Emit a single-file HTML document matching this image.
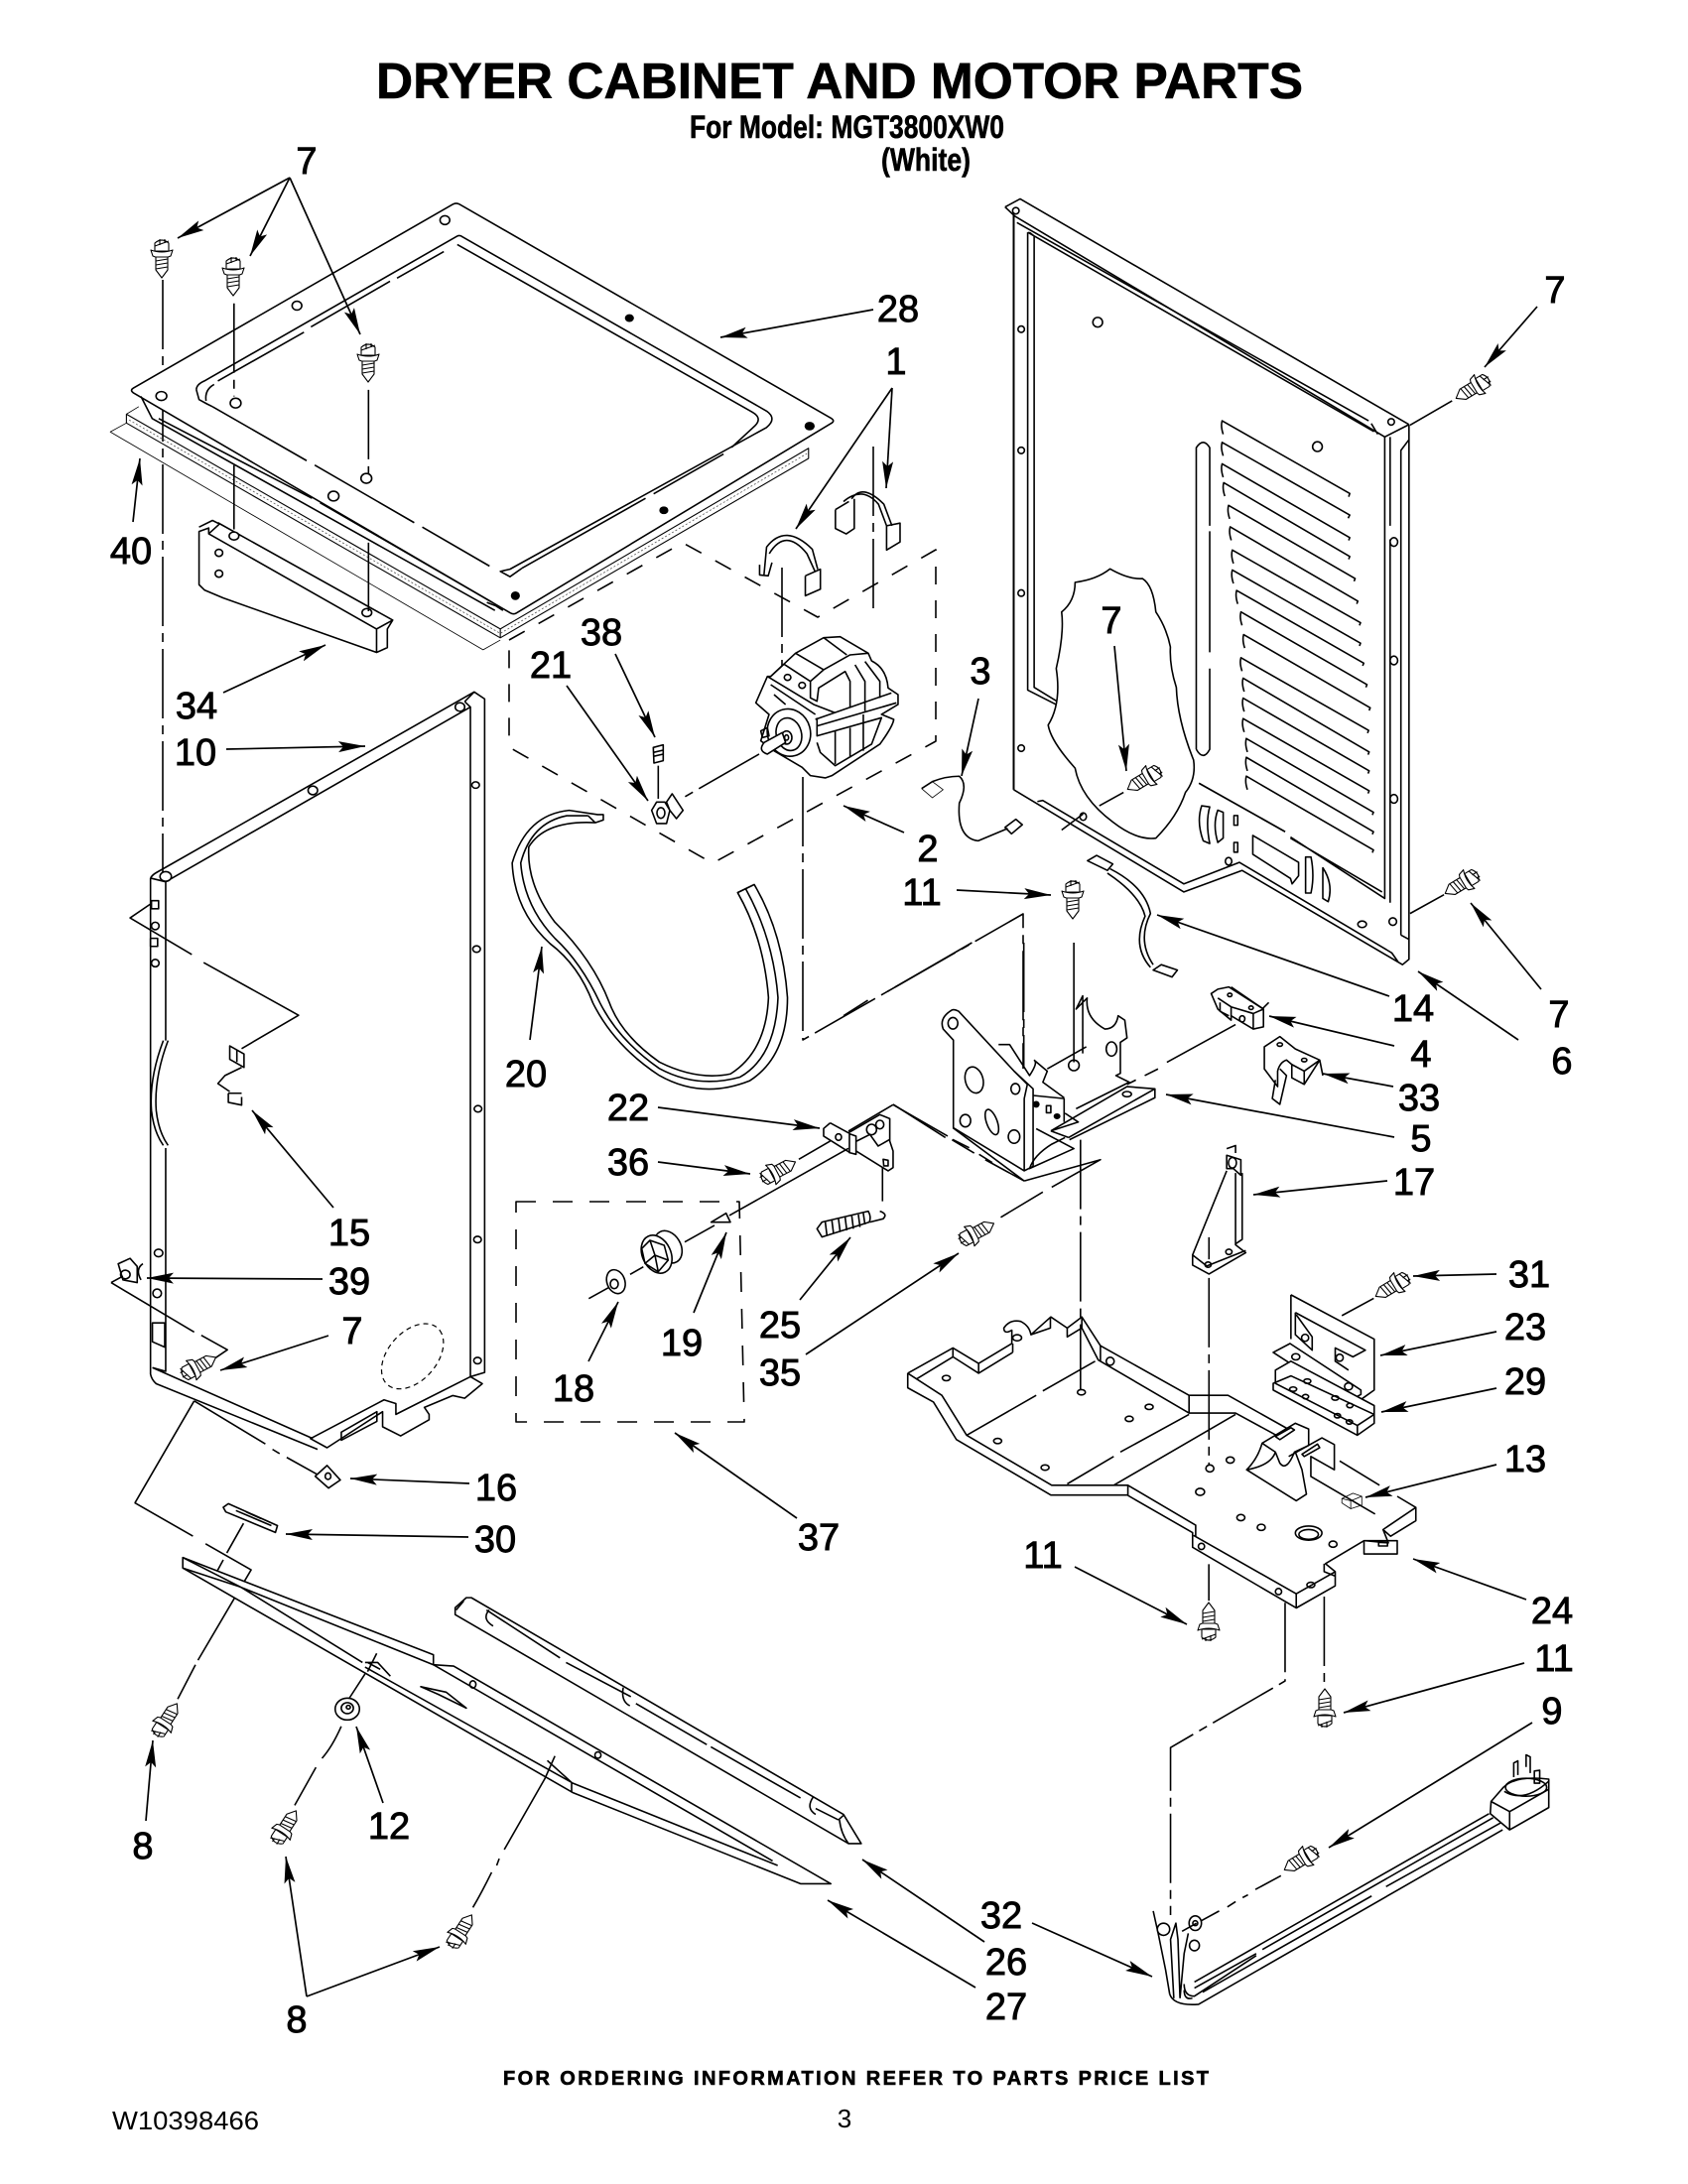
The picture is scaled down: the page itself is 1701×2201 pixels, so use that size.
<!DOCTYPE html>
<html><head><meta charset="utf-8"><title>Dryer Cabinet and Motor Parts</title>
<style>
html,body{margin:0;padding:0;background:#fff}
svg{display:block}
path,line,ellipse,rect{vector-effect:non-scaling-stroke;fill:none;stroke:#000;stroke-width:1.6;stroke-linejoin:round}
.w{fill:#fff}
.k{fill:#000}
.n{stroke-width:.8}
.h{stroke-width:2}
.d{stroke-dasharray:18 16}
.l{stroke-dasharray:70 7 9 7}
.x{stroke-dasharray:5 4}
.ar{marker-end:url(#m);stroke-width:1.7}
.a{fill:#000;stroke:none}
#sc path{stroke-width:1.1}
text{font-family:"Liberation Sans",Arial,sans-serif;fill:#000}
.t{font-size:38px;text-anchor:middle;stroke:#000;stroke-width:.9}
.b{stroke:#000;stroke-width:.6}
</style></head><body>
<svg width="1701" height="2201" viewBox="0 0 1701 2201" xmlns="http://www.w3.org/2000/svg">
<defs>
<marker id="m" markerUnits="userSpaceOnUse" markerWidth="28" markerHeight="12" refX="27" refY="6" orient="auto" viewBox="0 0 28 12"><path class="a" d="M0 .5L27 6L0 11.5L5 6Z"/></marker>
<g id="sc">
<path class="w" d="M-7 -5Q0 -11 7 -5L7 3H-7Z"/>
<path d="M-7 -2L7 -7M-2 -9L-2 -3M3 -9L3 -5"/>
<path class="w" d="M-11 2Q0 6 11 2L9 8Q0 12 -9 8Z"/>
<path class="w" d="M-6 9V22L0 30L6 22V9Z"/>
<path d="M-6 13L6 11M-6 17L6 15M-6 21L6 19"/>
</g>
</defs>

<!-- long leaders, px -->
<path class="l" d="M164 282V880"/>
<path class="d" d="M513 645L688 547L824 622L943 554V747L718 870L513 753Z"/>
<path class="l" d="M809 783V1048L1031 921V1077"/>
<path class="l" d="M788 572V712"/>
<path class="l" d="M880 450V620"/>
<path class="d" style="stroke-dasharray:20 17" d="M520 1211H745L750 1433H520Z"/>

<!-- TOP PLATE -->
<g transform="scale(.5421,.4464)">
<path style="stroke-width:1.1" d="M235 935L930 1420L1503 1012V1035L930 1440L235 955ZM930 1420V1440"/>
<path class="n" style="stroke-dasharray:2 2;stroke:#555" d="M240 948L930 1430L1500 1024"/>
<path class="n" d="M258 918L235 935M235 955L205 975L898 1467L930 1445M205 975L235 955"/>
<path class="w" d="M842 461Q848 457 854 461L1546 945Q1552 950 1546 955L960 1384Q955 1388 949 1384L248 887Q241 881 248 876Z"/>
<path d="M262 895L283 945L920 1378M905 1360L922 1368L935 1378"/>
<path d="M365 880Q365 868 380 860L850 533Q855 530 860 535L1425 928Q1445 945 1425 965L948 1285L930 1290L948 1302L970 1283"/>
<path d="M365 880L370 902L385 912L395 918M383 905Q380 880 398 868"/>
<path d="M405 860L565 750M578 738L725 635M738 628L825 568M850 552L1398 930Q1420 945 1400 965L1360 1010M1345 1025L1215 1115M1200 1125L970 1283"/>
<path d="M395 918L570 1040M585 1050L770 1180M785 1190L910 1278"/>
<path d="M295 945L580 1125M595 1135L915 1360"/>
<ellipse class="w" cx="827" cy="497" rx="9" ry="10"/><ellipse class="w" cx="552" cy="690" rx="9" ry="10"/><ellipse class="k" cx="1170" cy="718" rx="7" ry="7"/><ellipse class="k" cx="1505" cy="962" rx="8" ry="8"/>
<ellipse class="w" cx="300" cy="894" rx="10" ry="10"/><ellipse class="w" cx="438" cy="910" rx="10" ry="11"/><ellipse class="w" cx="681" cy="1080" rx="10" ry="11"/><ellipse class="w" cx="620" cy="1120" rx="10" ry="11"/><ellipse class="k" cx="1234" cy="1152" rx="7" ry="7"/><ellipse class="k" cx="958" cy="1345" rx="7" ry="8"/>
<path d="M370 1190L395 1175L408 1183L388 1205V1192L370 1200V1320L380 1332L415 1350L700 1473L720 1462V1420L730 1400L405 1180M388 1205L700 1420V1473M730 1400L700 1420"/>
<ellipse class="w" cx="435" cy="1210" rx="9" ry="9"/><ellipse class="w" cx="682" cy="1383" rx="9" ry="9"/><ellipse class="w" cx="407" cy="1248" rx="7" ry="8"/><ellipse class="w" cx="407" cy="1295" rx="7" ry="8"/>
<path class="l" d="M435 685V895M685 880V1070M435 1050V1195M685 1225V1380"/>
<path d="M1430 1250Q1460 1190 1500 1250L1515 1290M1420 1300L1425 1235Q1460 1180 1510 1240L1520 1285M1412 1275V1298L1428 1300L1435 1270M1497 1300V1345L1525 1330V1285L1497 1300"/>
</g>

<!-- BACK PANEL & items zoom 2 -->
<g transform="translate(850,150) scale(.5427)">
<path d="M300 108L328 93L1050 512M300 108L318 125L1005 535M1050 512L1005 535M980 510L992 530"/>
<path class="h" d="M316 115V1190"/>
<path d="M316 1190L632 1380L740 1340L1038 1515L1050 1505V512M360 1212L370 1210L632 1365L735 1325L1018 1493L1030 1510"/>
<path d="M342 155V1005L395 1032M354 162V1000L395 1025M322 137L975 505M342 155L985 525M354 162L345 155"/>
<path d="M1005 535V1392L830 1278M820 1268L660 1178M1000 1380L830 1280"/>
<path d="M1015 535V700M1015 725V1400M1035 1460V560L1050 540M1035 1460L1050 1468"/>
<path d="M655 1115V555Q668 535 680 555V700M680 710V935M680 965V1115Q668 1138 655 1115"/>
<path d="M705 530Q700 515 703 505L940 640l-2 6M705 570Q700 555 703 545L940 680l-3 6M705 610Q700 595 703 585L940 722l-2 5M708 645Q703 630 706 620L940 757l-2 5M717 687Q712 672 715 662L950 798l-2 5M720 727Q715 712 718 702L955 840l-2 5M724 770Q719 755 722 745L960 880l-2 5M724 807Q719 792 722 782L960 918l-2 5M732 845Q727 830 730 820L966 955l-2 5M740 885Q735 870 738 860L972 995l-2 5M745 927Q740 912 743 902L978 1038l-2 5M740 970Q735 955 738 945L975 1080l-2 5M744 1008Q739 993 742 983L976 1120l-2 5M744 1045Q739 1030 742 1020L976 1155l-2 5M744 1083Q739 1068 742 1058L976 1192l-2 5M750 1120Q745 1105 748 1095L984 1232l-2 5M750 1155Q745 1140 748 1130L984 1268l-2 5M750 1190Q745 1175 748 1165L984 1302l-2 5"/>
<g>
<ellipse class="w" cx="330" cy="335" rx="6" ry="6"/><ellipse class="w" cx="330" cy="560" rx="6" ry="6"/><ellipse class="w" cx="330" cy="825" rx="6" ry="6"/><ellipse class="w" cx="330" cy="1113" rx="6" ry="6"/><ellipse class="w" cx="472" cy="322" rx="9" ry="9"/><ellipse class="w" cx="880" cy="553" rx="9" ry="9"/><ellipse class="w" cx="1022" cy="730" rx="7" ry="8"/><ellipse class="w" cx="1022" cy="950" rx="7" ry="8"/><ellipse class="w" cx="1022" cy="1207" rx="7" ry="8"/><ellipse class="w" cx="1017" cy="507" rx="6" ry="6"/><ellipse class="w" cx="320" cy="115" rx="6" ry="6"/><ellipse class="w" cx="445" cy="1240" rx="6" ry="7"/><ellipse class="w" cx="715" cy="1323" rx="6" ry="7"/><ellipse class="w" cx="1020" cy="1435" rx="7" ry="7"/><ellipse class="w" cx="963" cy="1440" rx="8" ry="6"/>
</g>
<path class="w" d="M495 780Q530 800 555 798Q575 810 580 860Q600 890 607 925Q605 960 618 1000Q620 1060 650 1135Q655 1170 635 1195Q620 1240 580 1280Q545 1285 500 1250Q440 1205 430 1150Q385 1100 380 1070Q405 1030 395 965Q410 900 405 860Q430 840 430 805Q470 800 495 780Z"/>
<path d="M660 1178L820 1268M665 1220Q655 1250 668 1285L680 1290Q672 1250 680 1222ZM695 1228Q685 1255 695 1288L705 1280V1232Z"/>
<rect x="725" y="1238" width="7" height="18"/><rect x="725" y="1288" width="7" height="18"/>
<path d="M760 1275V1310L830 1355L833 1365L845 1350V1325Z"/>
<path d="M858 1315H868Q875 1350 868 1382H858ZM890 1335Q910 1365 900 1398L890 1392Z"/>
<path d="M1052 513L1130 468M1052 1420L1115 1385M475 1220L520 1195M405 1265L445 1235"/>
<path d="M145 1188L165 1175Q190 1165 215 1165Q232 1180 215 1215Q210 1280 250 1285L305 1262"/>
<path class="n" d="M145 1188L165 1205L185 1190L165 1175"/>
<path d="M300 1260L320 1245L332 1255L312 1272Z"/>
<path class="w" d="M453 1322L470 1312L500 1328L490 1340Z"/>
<path d="M495 1337Q560 1370 570 1420Q545 1470 575 1515M490 1345Q550 1385 560 1425Q535 1480 570 1520"/>
<path d="M575 1525L590 1515L620 1525L610 1538Z"/>
<path d="M-15 670V705L5 715L20 705V650M-15 670L10 655M15 650Q35 620 75 660L90 700M0 655Q35 625 65 660L80 700M80 700V745L105 730V695L80 700"/>
</g>

<!-- MOTOR etc zoom 6 -->
<g transform="translate(480,560) scale(.3333)">
<path class="w" d="M890 365L965 295L1050 248L1100 245L1185 295L1195 318Q1240 340 1245 400L1275 420V450L1225 480L1262 495Q1260 515 1220 570L1075 665L1055 672L1010 665L985 640L900 590L860 560L885 480L845 445L880 365Z"/>
<path d="M880 365L1020 450L1085 475M890 365L930 328L1010 380L1050 345L1130 300L1185 295M1050 248L1120 300M965 295L1050 345M1010 380V430L1030 440L1035 400L1115 350L1130 380V460M1145 330L1175 380V470M1175 320L1220 380V430"/>
<path d="M890 390L1025 480M900 420L935 450M1025 495L1255 415M1030 515L1270 445M1030 490L1030 545L1225 490L1195 570L1085 635L1040 595L1030 565"/>
<path d="M1085 530V630M1130 520V610M1170 480V590"/>
<ellipse class="w" cx="945" cy="535" rx="65" ry="72" transform="rotate(-15 945 535)"/>
<ellipse cx="945" cy="540" rx="38" ry="50" transform="rotate(-15 945 540)"/>
<ellipse cx="938" cy="550" rx="16" ry="20"/><ellipse cx="938" cy="550" rx="6" ry="8"/>
<path class="w" d="M870 565L925 535L935 565L880 600Q850 590 870 565Z"/>
<path d="M860 530L880 520L885 545L865 550Z"/>
<ellipse cx="941" cy="368" rx="10" ry="9"/><ellipse cx="985" cy="392" rx="10" ry="9"/>
<path class="l" d="M855 600L620 735"/>
<path d="M550 635V735"/>
<path class="w" d="M530 770L545 745L570 745L585 770L575 810L545 810Z"/>
<ellipse cx="558" cy="778" rx="12" ry="16"/>
<path class="w" d="M575 745L592 720L625 770L605 795L585 770Z"/>
<path d="M535 580L565 572V620L537 627Z"/><path d="M535 595L565 588M535 607L565 600"/>
</g>

<!-- LEFT PANEL zoom 4 -->
<g transform="translate(100,680) scale(.4783,.5421)">
<path d="M108 378Q112 372 120 368L790 32L812 45V1297L782 1305M140 385L782 60V1305M770 50L790 32M782 60L770 50"/>
<path d="M108 378V1300Q110 1310 120 1318L460 1440M112 1288L450 1420M108 378L140 385V680M145 680Q115 750 120 810Q125 850 145 875M135 680Q105 750 110 810Q115 850 135 875M140 880V1295L112 1288"/>
<path d="M445 1420L480 1437L597 1370V1398L635 1415L695 1385V1375L685 1362L745 1340L770 1345L807 1318L782 1305L625 1375L625 1355L600 1348Z"/>
<path d="M510 1408L585 1370V1388L510 1423Z"/>
<ellipse class="w" cx="140" cy="375" rx="12" ry="9"/><ellipse cx="450" cy="215" rx="10" ry="8"/><ellipse cx="760" cy="60" rx="10" ry="8"/>
<ellipse cx="793" cy="205" rx="8" ry="6"/><ellipse cx="795" cy="510" rx="8" ry="6"/><ellipse cx="798" cy="807" rx="8" ry="6"/><ellipse cx="797" cy="1050" rx="8" ry="6"/><ellipse cx="797" cy="1275" rx="8" ry="6"/>
<rect x="110" y="420" width="15" height="15"/><ellipse cx="118" cy="467" rx="8" ry="7"/><rect x="108" y="490" width="15" height="15"/><ellipse cx="118" cy="536" rx="8" ry="7"/><ellipse cx="125" cy="1075" rx="9" ry="7"/><ellipse cx="122" cy="1150" rx="9" ry="8"/>
<path d="M112 1205H138V1250L112 1240Z"/>
<ellipse class="x" style="stroke-width:1.2" cx="660" cy="1267" rx="75" ry="48" transform="rotate(-40 660 1267)"/>
<path d="M110 425L65 452L195 520M220 535L420 633L300 695"/>
<path d="M275 690L305 705V730L275 715ZM290 697V720M300 730L265 745L250 760L275 775M272 778H300M272 778V795L300 800V785"/>
<path class="w" d="M40 1095L65 1085L80 1100V1130L50 1125Z"/><ellipse cx="55" cy="1115" rx="10" ry="8"/><path d="M92 1095Q75 1105 88 1125"/>
<path d="M25 1130L50 1118M25 1130L200 1222M215 1228L270 1255L245 1270"/>
<path d="M200 1350L350 1430M365 1440L380 1448M395 1455L460 1487M200 1350L75 1540"/>
<path class="w" d="M455 1490L480 1470L508 1497L483 1512Z"/><ellipse cx="482" cy="1490" rx="6" ry="6"/>
<!-- belt -->
<path class="w" d="M1050 260L990 252Q900 260 870 350Q875 440 950 500Q1010 540 1040 610Q1085 690 1180 745Q1270 790 1370 755Q1450 710 1450 600Q1440 480 1380 390L1345 405Q1400 490 1410 600Q1405 700 1330 742Q1260 755 1180 720Q1100 670 1075 610Q1040 530 960 460Q900 390 905 320Q940 270 1045 275L1062 270V260Z"/>
<path d="M1030 262L985 262Q910 275 888 350Q895 430 960 490Q1015 535 1055 610Q1095 680 1180 732Q1260 770 1350 748Q1425 710 1430 600Q1420 490 1362 398M1030 262L1045 275"/>
<path d="M1345 405L1380 390"/>
</g>

<!-- zoom 8 -->
<g transform="translate(500,1050) scale(.3333)">
<path d="M1010 245L990 262V285L1070 335M1010 245L1065 275L1160 220L1190 232V300L1200 330V380L1185 390L1088 330"/>
<path d="M1068 278L1088 285V340L1068 335ZM1090 300L1130 280L1155 315L1190 295"/>
<ellipse cx="1035" cy="288" rx="9" ry="10"/><ellipse cx="1135" cy="265" rx="15" ry="16"/><ellipse cx="1160" cy="250" rx="12" ry="13"/><path d="M1170 355L1185 358V375L1172 375Z"/>
<path d="M1065 322L705 525M1010 300L915 355M650 545L695 518L708 545Z"/>
<path d="M1168 380V482M1200 190L1065 270M1200 190L1365 285M1380 295L1430 320M1460 340L1500 365"/>
<path class="w" d="M970 565L985 545L1125 512Q1135 530 1128 545L985 590Z"/>
<path d="M1000 585L995 545M1020 580L1015 540M1040 575L1035 535M1060 570L1055 530M1080 565L1075 525M1100 560L1095 522M1115 552L1110 518"/>
<path d="M1130 545L1170 535Q1185 520 1160 512"/>
<ellipse class="w" cx="520" cy="620" rx="38" ry="52" transform="rotate(-30 520 620)"/>
<ellipse class="w" cx="485" cy="642" rx="43" ry="60" transform="rotate(-25 485 642)"/>
<path d="M440 625L465 600L508 615L520 660L490 695L450 670ZM465 600L480 645L520 660M480 645L450 670M480 645L490 695"/>
<path d="M570 605L660 555M405 703L445 680M280 776L345 740"/>
<ellipse class="w" cx="362" cy="725" rx="27" ry="37" transform="rotate(-20 362 725)"/><ellipse cx="357" cy="732" rx="12" ry="14"/>
</g>

<!-- zoom 3: brackets & base -->
<g transform="translate(850,950) scale(.4464)">
<path class="w" d="M245 152Q215 170 225 195L248 220V418L408 515L428 505V330L385 290L260 155Q250 150 245 152Z"/>
<path d="M408 515V352L415 320M428 345L498 352V405M385 290L415 320"/>
<ellipse cx="247" cy="182" rx="11" ry="13"/><ellipse cx="295" cy="310" rx="20" ry="30" transform="rotate(-15 295 310)"/><ellipse cx="335" cy="405" rx="12" ry="30" transform="rotate(-20 335 405)"/><ellipse cx="275" cy="402" rx="12" ry="14"/><ellipse cx="385" cy="438" rx="13" ry="15"/><ellipse cx="388" cy="330" rx="10" ry="12"/>
<path d="M460 285L548 235M540 250V120L525 150L550 125Q545 170 590 195Q615 195 620 165L635 175L640 215L625 225V295L615 300L645 315L525 375M430 265L460 290L450 315L498 350M350 230L375 230L420 300Q440 270 430 265"/>
<ellipse cx="520" cy="277" rx="12" ry="12"/><ellipse cx="605" cy="240" rx="12" ry="16"/>
<path d="M508 440L703 330V350L510 445M468 425L640 325L703 330M468 425L508 440M468 425L530 405L500 385"/>
<ellipse cx="640" cy="342" rx="10" ry="6"/><ellipse cx="435" cy="365" rx="6" ry="6" class="k"/><rect x="458" y="368" width="10" height="16"/><ellipse cx="482" cy="392" rx="6" ry="5" class="k"/>
<path d="M435 420L520 465L420 510Q430 480 470 455L500 440"/>
<path class="l" d="M535 445V1010"/>
<path class="l" d="M407 0V280"/>
<path d="M520 0V270"/>
<path d="M408 538L320 490M295 475L245 445M230 440L112 365M408 538L247 418M408 538L580 490L470 552M450 563L355 620"/>
<path d="M885 185L730 270M710 285L680 300M660 310L640 320M290 0L100 110M55 130L0 165"/>
<path d="M830 115L845 105L870 100L948 150V190L925 195L875 165V175L845 150Z"/>
<path d="M845 125L875 145V165M925 160L948 150M850 135V155L870 165M925 160V195M960 135L945 150M875 145L925 160M875 100L948 150"/>
<ellipse cx="872" cy="118" rx="5" ry="4"/><ellipse cx="920" cy="147" rx="5" ry="4"/><ellipse cx="900" cy="172" rx="6" ry="7"/>
<path d="M950 235L985 212L1020 240L1075 265L1040 320L1012 305V275L1000 265Q985 270 980 290V325L950 285ZM1040 320V290L1012 275M1040 290L1075 265L1082 300M985 285L1000 300L985 365L968 352L975 310"/>
<ellipse cx="985" cy="230" rx="6" ry="4"/><ellipse cx="1040" cy="265" rx="6" ry="4"/>
<!-- 17 -->
<path d="M865 465L885 458V475M865 510V480L897 490V525L880 510ZM865 515L788 705V728L825 748L908 700L885 682V520M900 520V670L885 680M788 705L820 730L908 695M825 665V715"/>
<ellipse cx="878" cy="497" rx="9" ry="12"/><ellipse cx="823" cy="727" rx="7" ry="6"/><ellipse cx="870" cy="698" rx="7" ry="6"/>
<path class="l" d="M825 757V1180"/>
<!-- 23, 29 -->
<path d="M1010 795L1198 895V1010L1170 1030M1010 795V895M1020 835L1178 920L1150 935L1110 915V945L1140 965M1020 835V885L1058 920V890L1022 840M1125 842L1197 803"/>
<ellipse cx="1042" cy="892" rx="8" ry="8"/><ellipse cx="1120" cy="937" rx="8" ry="8"/>
<path class="w" d="M970 925L1008 905L1168 1010V1020L1140 1035Z"/>
<path class="w" d="M975 965L1010 945L1198 1045V1065L1160 1090L975 995Z"/>
<path d="M970 995L1010 978L1198 1065V1085L1160 1112L970 1010ZM1160 1090V1112"/>
<ellipse cx="1021" cy="935" rx="9" ry="7"/><ellipse cx="1140" cy="1002" rx="9" ry="8"/><ellipse cx="1047" cy="990" rx="8" ry="5"/><ellipse cx="1015" cy="1008" rx="8" ry="5"/><ellipse cx="1043" cy="1025" rx="7" ry="5"/><ellipse cx="1110" cy="1028" rx="8" ry="5"/><ellipse cx="1143" cy="1045" rx="7" ry="5"/><ellipse cx="1115" cy="1068" rx="7" ry="5"/><ellipse cx="1142" cy="1082" rx="7" ry="5"/>
<!-- base -->
<path d="M145 972L247 915L305 950L380 905V875Q362 885 362 870Q375 850 400 855Q420 865 423 885L468 845L505 870L538 845L580 910L780 1022H868L1025 1110M1120 1170L1210 1225M1250 1250L1292 1275V1305L1235 1340L1218 1325L1292 1275"/>
<path d="M145 972V1005L203 1037L255 1122L468 1247H642V1225M145 972L222 1022L278 1112L470 1225H642L795 1315V1340M642 1248L788 1332V1365L1022 1502L1110 1452V1420L1088 1402L1175 1350H1250V1380H1175V1350M1175 1350L1230 1355L1218 1325M1085 1402V1420L1110 1430M1022 1470V1502M790 1338L1022 1470L1110 1420"/>
<path d="M165 985L247 935L305 972L382 925M382 905V925M467 845V870L423 885M538 845V870L575 942L780 1062H885L1010 1130M580 910V945M780 1022V1062M505 870V890L538 870M247 915V935M305 950V972"/>
<path d="M278 1112L435 1022M450 1012L568 945M505 1222L610 1160M625 1150L780 1065M610 1225L885 1065"/>
<g>
<ellipse cx="232" cy="983" rx="9" ry="6"/><ellipse cx="392" cy="892" rx="10" ry="7"/><ellipse cx="602" cy="945" rx="9" ry="9"/><ellipse cx="537" cy="1015" rx="9" ry="6"/><ellipse cx="690" cy="1048" rx="9" ry="6"/><ellipse cx="645" cy="1075" rx="9" ry="6"/><ellipse cx="348" cy="1125" rx="9" ry="6"/><ellipse cx="455" cy="1185" rx="9" ry="6"/><ellipse cx="827" cy="1187" rx="9" ry="8"/><ellipse cx="873" cy="1168" rx="9" ry="7"/><ellipse cx="805" cy="1240" rx="10" ry="8"/><ellipse cx="897" cy="1298" rx="9" ry="7"/><ellipse cx="943" cy="1320" rx="9" ry="7"/><ellipse cx="1050" cy="1333" rx="30" ry="16"/><ellipse cx="1050" cy="1336" rx="22" ry="11"/><ellipse cx="1105" cy="1358" rx="9" ry="7"/><ellipse cx="808" cy="1363" rx="7" ry="7"/><ellipse cx="982" cy="1465" rx="7" ry="7"/><ellipse cx="1055" cy="1450" rx="9" ry="6"/><rect x="1208" y="1354" width="20" height="8"/>
</g>
<path class="w" d="M945 1130L1020 1085L1050 1098V1135L1018 1150Q1000 1195 985 1175L975 1150Z"/>
<path d="M945 1130Q935 1165 910 1190L1022 1260L1045 1245L1035 1190L1020 1150M975 1150Q965 1180 910 1190M1005 1160L1080 1118L1108 1133V1190L1055 1160V1205L1200 1290"/>
<path class="w" d="M975 1115L1010 1095L1018 1100L985 1122Z"/><path class="w" d="M1035 1155L1070 1132L1075 1140L1040 1160Z"/>
<path class="n" d="M1125 1255L1150 1243L1170 1250V1270L1145 1278L1125 1265ZM1125 1255L1145 1260V1278M1145 1260L1170 1250"/>
</g>

<!-- zoom 5 -->
<g transform="translate(100,1480) scale(.5102,.4598)">
<path d="M155 505L190 430M195 420L300 222L210 165M185 148L70 75"/>
<path d="M228 235L245 200M252 185L285 120"/>
<path d="M245 85L255 77L352 125L348 140L250 95ZM270 92L340 125M290 95L320 110"/>
<path class="w" d="M165 195V218L935 710L1385 910H1445L700 433L660 430V408Z"/>
<path d="M165 195L280 260L520 425M165 218L280 260M275 258L660 430M525 435L933 688V710M932 688L1340 870M660 430L1330 860M933 688L885 640"/>
<ellipse cx="738" cy="473" rx="6" ry="8"/><ellipse cx="985" cy="628" rx="6" ry="7"/>
<path d="M635 478L685 490L725 525L670 495Z"/>
<path d="M525 425L550 425L575 455M530 425L555 440"/>
<path d="M548 405L530 445M525 450L490 510"/>
<ellipse class="w" cx="490" cy="527" rx="24" ry="24"/><ellipse cx="490" cy="525" rx="12" ry="12"/><ellipse cx="492" cy="523" rx="4" ry="4"/>
<path d="M478 565Q460 610 440 635M428 655L386 738"/>
<path d="M900 630L880 680L800 835M790 855L785 870M775 885Q755 930 738 962"/>
<path class="w" d="M725 283L735 283L1470 758L1505 822H1480L703 320V305Z"/>
<path d="M720 290L705 310M765 310L910 415M922 425L1050 500M1060 515L1200 605M1208 610L1385 722M1415 745L1460 770M1460 770L1470 760M1462 770Q1465 800 1480 822"/>
<path d="M770 310Q755 330 778 345M1035 480Q1030 510 1048 520M1410 720Q1395 745 1415 758"/>
</g>

<!-- zoom 7 cord -->
<g transform="translate(1050,1560) scale(.4152,.4088)">
<path d="M590 135V328L312 492V905" class="l"/>
<path class="l" d="M685 120V340"/>
<path d="M405 40V130"/>
<path d="M580 808L518 842M500 855L487 862M470 872L450 885M430 895L385 920"/>
<path d="M310 1100L300 1040L282 950L270 895M320 1110L312 965L325 925L330 965L335 1110M335 1110L345 1000L355 950M345 1090Q345 1115 365 1110"/>
<path d="M310 1100Q320 1130 380 1125L1118 695M345 1075Q345 1105 370 1105L520 1005M370 1070L1085 655M370 1085L520 1000M535 990L1095 665M390 1095L800 858M835 835L1118 675"/>
<path class="w" d="M1090 625L1120 590Q1150 560 1230 570V640L1135 695L1088 655Z"/>
<path d="M1090 625L1135 650L1230 595M1135 650V695M1122 600Q1170 630 1230 575"/>
<ellipse cx="1175" cy="590" rx="50" ry="22"/>
<path d="M1145 565V530L1155 525V560M1175 540V510L1185 515V555M1195 550L1208 548V580L1195 580Z"/>
<ellipse class="w" cx="295" cy="940" rx="15" ry="15"/><ellipse class="w" cx="372" cy="925" rx="15" ry="18"/><ellipse cx="372" cy="925" rx="6" ry="6"/><ellipse class="w" cx="370" cy="980" rx="12" ry="13"/>
<path d="M340 945L375 925"/>
</g>

<!-- screws -->
<use href="#sc" transform="translate(163,250)"/>
<use href="#sc" transform="translate(235,268)"/>
<use href="#sc" transform="translate(371,355)"/>
<use href="#sc" transform="translate(1493,386) rotate(59)"/>
<use href="#sc" transform="translate(1482,885) rotate(59)"/>
<use href="#sc" transform="translate(1162,780) rotate(59)"/>
<use href="#sc" transform="translate(1081,896)"/>
<use href="#sc" transform="translate(975,1247) rotate(-118)"/>
<use href="#sc" transform="translate(1412,1291) rotate(59)"/>
<use href="#sc" transform="translate(191,1382) rotate(-118)"/>
<use href="#sc" transform="translate(775,1185) rotate(-118)"/>
<use href="#sc" transform="translate(1218,1645) rotate(180)"/>
<use href="#sc" transform="translate(1335,1732) rotate(180)"/>
<use href="#sc" transform="translate(1320,1869) rotate(59)"/>
<use href="#sc" transform="translate(162,1742) rotate(-147)"/>
<use href="#sc" transform="translate(282,1850) rotate(-147)"/>
<use href="#sc" transform="translate(459,1955) rotate(-147)"/>

<!-- arrows -->
<g>
<path class="ar" d="M292 179L179 240"/><path class="ar" d="M292 179L252 258"/><path class="ar" d="M292 179L363 337"/>
<path class="ar" d="M880 312L726 340"/><path class="ar" d="M134 526L141 462"/><path class="ar" d="M225 698L328 650"/>
<path class="ar" d="M899 391L893 492"/><path class="ar" d="M899 391L802 533"/>
<path class="ar" d="M1549 309L1496 370"/><path class="ar" d="M1123 651L1135 777"/><path class="ar" d="M986 704L969 782"/>
<path class="ar" d="M911 839L850 812"/><path class="ar" d="M964 897L1059 902"/><path class="ar" d="M1553 997L1482 910"/>
<path class="ar" d="M1400 1004L1166 922"/><path class="ar" d="M1530 1048L1429 979"/><path class="ar" d="M1405 1054L1279 1024"/>
<path class="ar" d="M1404 1095L1333 1082"/><path class="ar" d="M1405 1146L1175 1103"/><path class="ar" d="M1398 1190L1263 1204"/>
<path class="ar" d="M1508 1284L1424 1286"/><path class="ar" d="M1508 1342L1391 1366"/><path class="ar" d="M1508 1399L1392 1423"/><path class="ar" d="M1508 1476L1376 1509"/>
<path class="ar" d="M1083 1579L1196 1637"/><path class="ar" d="M1538 1612L1424 1571"/><path class="ar" d="M1536 1676L1354 1726"/><path class="ar" d="M1544 1736L1339 1862"/>
<path class="ar" d="M1040 1938L1161 1992"/>
<path class="ar" d="M228 755L368 752"/><path class="ar" d="M336 1217L254 1119"/><path class="ar" d="M325 1289L148 1288"/><path class="ar" d="M331 1346L222 1381"/><path class="ar" d="M473 1495L353 1490"/>
<path class="ar" d="M534 1048L546 954"/><path class="ar" d="M663 1116L826 1137"/><path class="ar" d="M663 1171L756 1183"/><path class="ar" d="M593 1372L623 1312"/><path class="ar" d="M699 1323L732 1242"/>
<path class="ar" d="M806 1310L857 1247"/><path class="ar" d="M812 1365L966 1263"/><path class="ar" d="M803 1530L680 1444"/><path class="ar" d="M472 1549L288 1546"/>
<path class="ar" d="M147 1835L154 1754"/><path class="ar" d="M386 1817L359 1740"/><path class="ar" d="M309 2012L288 1871"/><path class="ar" d="M309 2012L443 1962"/>
<path class="ar" d="M992 1957L869 1874"/><path class="ar" d="M983 2003L834 1915"/><path class="ar" d="M620 659L660 743"/><path class="ar" d="M571 691L653 807"/>
</g>

<!-- text (on top) -->
<text class="b" x="379" y="99" font-size="51" font-weight="bold" textLength="934" lengthAdjust="spacingAndGlyphs">DRYER CABINET AND MOTOR PARTS</text>
<text class="b" x="695" y="139" font-size="32" font-weight="bold" textLength="317" lengthAdjust="spacingAndGlyphs">For Model: MGT3800XW0</text>
<text class="b" x="888" y="172" font-size="32" font-weight="bold" textLength="90" lengthAdjust="spacingAndGlyphs">(White)</text>
<text class="b" x="507" y="2101" font-size="20" font-weight="bold" textLength="711">FOR ORDERING INFORMATION REFER TO PARTS PRICE LIST</text>
<text x="113" y="2146" font-size="26" textLength="148" lengthAdjust="spacingAndGlyphs">W10398466</text>
<text x="851" y="2144" font-size="26" text-anchor="middle">3</text>

<text class="t" x="309" y="175">7</text><text class="t" x="132" y="568">40</text><text class="t" x="606" y="650">38</text><text class="t" x="555" y="683">21</text>
<text class="t" x="198" y="724">34</text><text class="t" x="197" y="771">10</text><text class="t" x="905" y="324">28</text><text class="t" x="903" y="377">1</text>
<text class="t" x="1567" y="305">7</text><text class="t" x="1120" y="638">7</text><text class="t" x="988" y="689">3</text><text class="t" x="935" y="868">2</text><text class="t" x="929" y="912">11</text>
<text class="t" x="1424" y="1029">14</text><text class="t" x="1432" y="1075">4</text><text class="t" x="1430" y="1119">33</text><text class="t" x="1432" y="1160">5</text><text class="t" x="1425" y="1204">17</text>
<text class="t" x="1541" y="1297">31</text><text class="t" x="1537" y="1350">23</text><text class="t" x="1537" y="1405">29</text><text class="t" x="1537" y="1483">13</text>
<text class="t" x="1564" y="1636">24</text><text class="t" x="1566" y="1684">11</text><text class="t" x="1564" y="1737">9</text><text class="t" x="1051" y="1580">11</text>
<text class="t" x="1571" y="1035">7</text><text class="t" x="1574" y="1082">6</text><text class="t" x="1009" y="1943">32</text><text class="t" x="1014" y="1990">26</text><text class="t" x="1014" y="2035">27</text>
<text class="t" x="144" y="1873">8</text><text class="t" x="299" y="2048">8</text><text class="t" x="392" y="1853">12</text><text class="t" x="499" y="1564">30</text><text class="t" x="500" y="1512">16</text><text class="t" x="825" y="1562">37</text>
<text class="t" x="352" y="1255">15</text><text class="t" x="352" y="1304">39</text><text class="t" x="355" y="1354">7</text><text class="t" x="530" y="1095">20</text><text class="t" x="578" y="1412">18</text><text class="t" x="687" y="1366">19</text>
<text class="t" x="786" y="1348">25</text><text class="t" x="786" y="1396">35</text><text class="t" x="633" y="1129">22</text><text class="t" x="633" y="1184">36</text>
</svg>
</body></html>
